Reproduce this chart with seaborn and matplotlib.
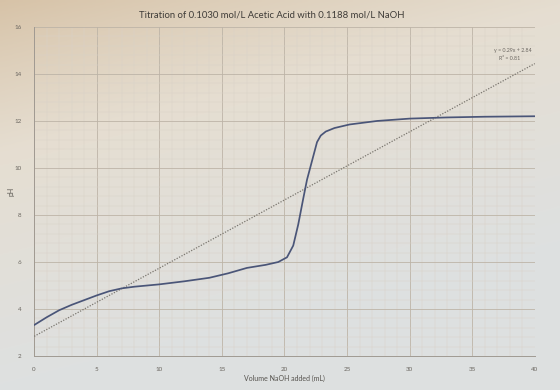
import matplotlib
matplotlib.use("Agg")
import matplotlib.pyplot as plt
import seaborn as sns
import numpy as np
import pandas as pd
from matplotlib.ticker import MultipleLocator

sns.set_theme(style="white")
plt.rcParams['font.family'] = ['Lato', 'DejaVu Sans']

# titration curve
volume_ml = [0, 1, 2, 3, 4, 5, 6, 7, 8, 10, 12, 14, 15.5, 17, 18.5, 19.5, 20.2, 20.7,
             21.1, 21.5, 21.8, 22.1, 22.4, 22.6, 22.9, 23.3, 24, 25.2, 27.4, 30, 33, 36, 40]
ph = [3.32, 3.65, 3.95, 4.18, 4.38, 4.58, 4.76, 4.88, 4.95, 5.05, 5.18, 5.33, 5.52, 5.75,
      5.88, 6.0, 6.2, 6.7, 7.6, 8.7, 9.5, 10.1, 10.7, 11.1, 11.38, 11.55, 11.7, 11.85,
      12.0, 12.1, 12.15, 12.18, 12.2]

# linear trendline as printed on the chart
trend_slope = 0.29
trend_intercept = 2.84
trend_r2 = 0.81
trend_range = [0, 40]

df = pd.DataFrame({'volume': volume_ml, 'pH': ph})
trend = pd.DataFrame({'volume': trend_range})
trend['pH'] = trend_slope * trend['volume'] + trend_intercept

fig = plt.figure(figsize=(5.6, 3.9), dpi=100)

# photo-like background wash
bg = fig.add_axes([0, 0, 1, 1], zorder=-10)
gx, gy = np.meshgrid(np.linspace(0, 1, 200), np.linspace(0, 1, 140))
wash = np.clip(0.35 * gx + 0.95 * gy + 0.05, 0, 1) ** 0.8
warm = np.array([0.83, 0.74, 0.62])
cool = np.array([0.87, 0.88, 0.88])
mid = np.array([0.90, 0.87, 0.82])
w = wash[..., None]
img = np.where(w < 0.5, warm * (1 - 2 * w) + mid * 2 * w, mid * (2 - 2 * w) + cool * (2 * w - 1))
bg.imshow(img, aspect='auto', extent=[0, 1, 0, 1], origin='upper')
bg.axis('off')

ax = fig.add_axes([0.061, 0.087, 0.894, 0.844])
ax.patch.set_alpha(0)

sns.lineplot(data=df, x='volume', y='pH', ax=ax, color='#4a5578', linewidth=1.25,
             sort=True, zorder=5)
sns.lineplot(data=trend, x='volume', y='pH', ax=ax, color='#7a766f', linewidth=0.9,
             linestyle=(0, (1, 1.2)), zorder=4)

ax.set_xlim(0, 40)
ax.set_ylim(2, 16)
ax.xaxis.set_major_locator(MultipleLocator(5))
ax.xaxis.set_minor_locator(MultipleLocator(1))
ax.yaxis.set_major_locator(MultipleLocator(2))
ax.yaxis.set_minor_locator(MultipleLocator(0.4))
ax.grid(which='major', color='#bdb4a7', linewidth=0.6)
ax.grid(which='minor', color='#d9d2c8', linewidth=0.35)
ax.set_axisbelow(True)
for s in ['top', 'right']:
    ax.spines[s].set_visible(False)
for s in ['left', 'bottom']:
    ax.spines[s].set_color('#a09a92')
    ax.spines[s].set_linewidth(0.7)
ax.tick_params(axis='both', which='both', length=0, labelsize=4.5, colors='#6a6660')
ax.tick_params(axis='y', pad=9)
ax.tick_params(axis='x', pad=8)

ax.set_xlabel('Volume NaOH added (mL)', fontsize=5, color='#55524d', labelpad=2)
ax.set_ylabel('pH', fontsize=5, color='#55524d', labelpad=0)
fig.text(0.485, 0.962, 'Titration of 0.1030 mol/L Acetic Acid with 0.1188 mol/L NaOH',
         ha='center', va='center', fontsize=6.8, color='#3f3c38')

ax.text(0.993, 0.927, f'y = {trend_slope}x + {trend_intercept}', transform=ax.transAxes,
        ha='right', va='center', fontsize=3.8, color='#6a6660')
ax.text(0.97, 0.905, f'R² = {trend_r2}', transform=ax.transAxes,
        ha='right', va='center', fontsize=3.8, color='#6a6660')

fig.savefig('out.png', dpi=100)
